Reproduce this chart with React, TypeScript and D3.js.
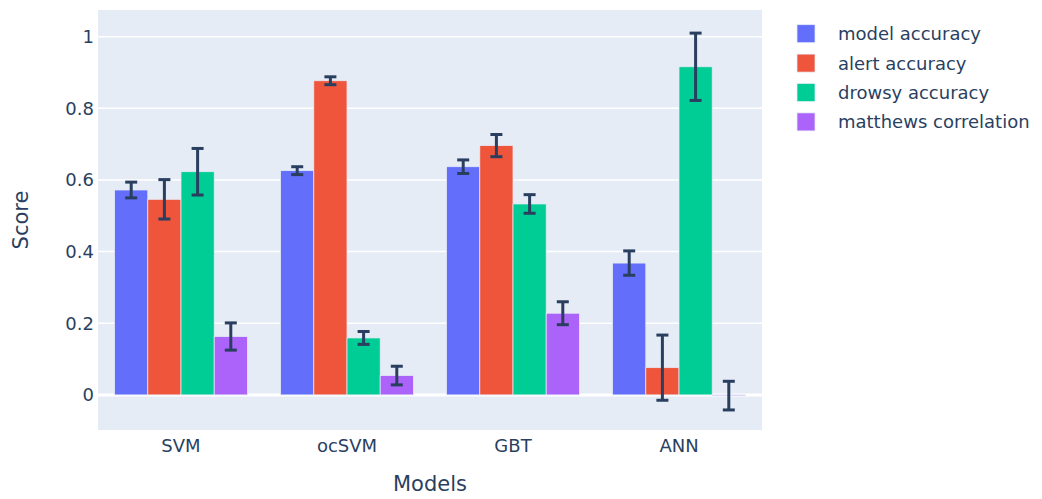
import React from "react";
import * as d3 from "d3";

const categories = ["SVM", "ocSVM", "GBT", "ANN"];
const seriesNames = ["model accuracy", "alert accuracy", "drowsy accuracy", "matthews correlation"];
const modelAccuracy = [0.572, 0.626, 0.637, 0.368];
const modelAccuracyErr = [0.022, 0.011, 0.019, 0.034];
const alertAccuracy = [0.546, 0.877, 0.696, 0.076];
const alertAccuracyErr = [0.055, 0.011, 0.031, 0.091];
const drowsyAccuracy = [0.623, 0.159, 0.533, 0.916];
const drowsyAccuracyErr = [0.065, 0.018, 0.026, 0.094];
const matthewsCorrelation = [0.163, 0.054, 0.228, -0.002];
const matthewsCorrelationErr = [0.038, 0.026, 0.032, 0.04];
const yTicks = [0, 0.2, 0.4, 0.6, 0.8, 1];
const yDomain = [-0.098, 1.0745];

const colors = ["#636efa", "#EF553B", "#00cc96", "#ab63fa"];
const seriesValues = [modelAccuracy, alertAccuracy, drowsyAccuracy, matthewsCorrelation];
const seriesErrors = [modelAccuracyErr, alertAccuracyErr, drowsyAccuracyErr, matthewsCorrelationErr];

const W = 1042;
const H = 499;
const plot = { left: 98, right: 762, top: 10, bottom: 430 };
const font = "'DejaVu Sans', Verdana, sans-serif";
const textColor = "#2a3f5f";

export default function App() {
  const x = d3.scaleBand<string>().domain(categories).range([plot.left, plot.right]).paddingInner(0.2).paddingOuter(0.1);
  const xInner = d3.scaleBand<number>().domain(d3.range(seriesNames.length)).range([0, x.bandwidth()]);
  const y = d3.scaleLinear().domain(yDomain).range([plot.bottom, plot.top]);
  const cap = 6;

  return (
    <svg width={W} height={H} style={{ position: "absolute", left: 0, top: 0, background: "#fff" }} fontFamily={font}>
      <rect x={plot.left} y={plot.top} width={plot.right - plot.left} height={plot.bottom - plot.top} fill="#E5ECF6" />
      {yTicks.map((t) => (
        <line key={"g" + t} x1={plot.left} x2={plot.right} y1={y(t)} y2={y(t)} stroke="#fff" strokeWidth={t === 0 ? 3 : 1.5} />
      ))}
      {seriesValues.map((vals, si) =>
        vals.map((v, ci) => {
          const bx = (x(categories[ci]) as number) + (xInner(si) as number);
          const y0 = y(0);
          const yv = y(v);
          return (
            <rect
              key={`b${si}-${ci}`}
              x={bx}
              y={Math.min(y0, yv)}
              width={xInner.bandwidth()}
              height={Math.max(Math.abs(y0 - yv), 0.5)}
              fill={colors[si]}
              stroke="#E5ECF6"
              strokeWidth={0.75}
            />
          );
        })
      )}
      {seriesValues.map((vals, si) =>
        vals.map((v, ci) => {
          const cx = (x(categories[ci]) as number) + (xInner(si) as number) + xInner.bandwidth() / 2;
          const e = seriesErrors[si][ci];
          const yt = y(v + e);
          const yb = y(v - e);
          return (
            <g key={`e${si}-${ci}`} stroke={textColor} strokeWidth={3}>
              <line x1={cx} x2={cx} y1={yt} y2={yb} />
              <line x1={cx - cap} x2={cx + cap} y1={yt} y2={yt} />
              <line x1={cx - cap} x2={cx + cap} y1={yb} y2={yb} />
            </g>
          );
        })
      )}
      {yTicks.map((t) => (
        <text key={"t" + t} x={94} y={y(t)} dy="0.36em" textAnchor="end" fontSize={18} fill={textColor}>
          {d3.format("~g")(t)}
        </text>
      ))}
      {categories.map((c) => (
        <text key={"c" + c} x={(x(c) as number) + x.bandwidth() / 2} y={452} textAnchor="middle" fontSize={18} fill={textColor}>
          {c}
        </text>
      ))}
      <text x={(plot.left + plot.right) / 2} y={491} textAnchor="middle" fontSize={21} fill={textColor}>
        Models
      </text>
      <text transform={`translate(20.5, ${(plot.top + plot.bottom) / 2}) rotate(-90)`} dy="0.36em" textAnchor="middle" fontSize={21} fill={textColor}>
        Score
      </text>
      {seriesNames.map((n, i) => {
        const cy = 33.7 + i * 29.4;
        return (
          <g key={"l" + n}>
            <rect x={797} y={cy - 9} width={18} height={18} fill={colors[i]} stroke="#E5ECF6" strokeWidth={0.75} />
            <text x={838} y={cy} dy="0.36em" fontSize={18} fill={textColor}>
              {n}
            </text>
          </g>
        );
      })}
    </svg>
  );
}
